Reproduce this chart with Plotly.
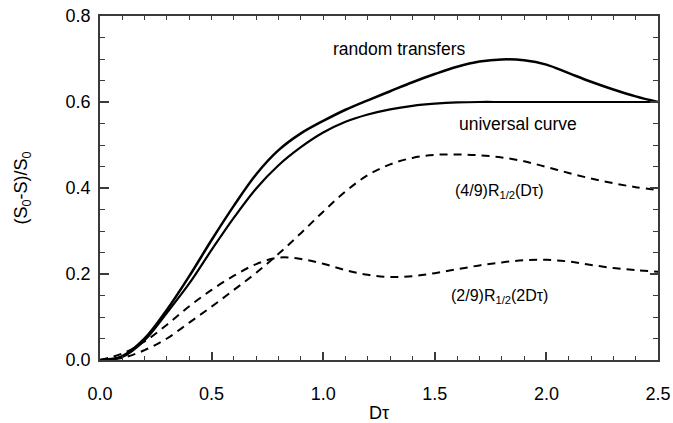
import plotly.graph_objects as go

# x grid (Dτ)
x_vals = [0.0, 0.1, 0.2, 0.3, 0.4, 0.5, 0.6, 0.7, 0.8, 0.9, 1.0, 1.1, 1.2,
          1.3, 1.4, 1.5, 1.6, 1.7, 1.8, 1.9, 2.0, 2.1, 2.2, 2.3, 2.4, 2.5]

random_transfers = [0.0, 0.009, 0.05, 0.117, 0.195, 0.279, 0.359, 0.432, 0.488, 0.527,
                    0.556, 0.582, 0.604, 0.625, 0.646, 0.665, 0.682, 0.694, 0.699, 0.697,
                    0.687, 0.667, 0.647, 0.629, 0.613, 0.600]

universal_curve = [0.0, 0.007, 0.046, 0.11, 0.178, 0.256, 0.331, 0.399, 0.453, 0.495,
                   0.529, 0.554, 0.571, 0.583, 0.591, 0.596, 0.599, 0.600, 0.600, 0.600,
                   0.600, 0.600, 0.600, 0.600, 0.600, 0.600]

r_half_4_9 = [0.0, 0.005, 0.023, 0.05, 0.087, 0.124, 0.163, 0.203, 0.247, 0.295,
              0.345, 0.392, 0.430, 0.455, 0.470, 0.477, 0.478, 0.476, 0.471, 0.462,
              0.449, 0.435, 0.422, 0.411, 0.402, 0.395]

r_half_2_9 = [0.0, 0.015, 0.043, 0.082, 0.125, 0.163, 0.196, 0.223, 0.238, 0.235,
              0.224, 0.209, 0.198, 0.193, 0.195, 0.202, 0.211, 0.220, 0.227, 0.232,
              0.233, 0.229, 0.221, 0.214, 0.209, 0.205]

x_ticks = [0.0, 0.5, 1.0, 1.5, 2.0, 2.5]
x_ticklabels = ["0.0", "0.5", "1.0", "1.5", "2.0", "2.5"]
y_ticks = [0.0, 0.2, 0.4, 0.6, 0.8]
y_ticklabels = ["0.0", "0.2", "0.4", "0.6", "0.8"]

labels = ["random transfers", "universal curve",
          "(4/9)R<sub>1/2</sub>(Dτ)", "(2/9)R<sub>1/2</sub>(2Dτ)"]
label_x = [1.343, 1.874, 1.79, 1.79]
label_y = [0.724, 0.549, 0.392, 0.148]
label_size = [17.5, 17.5, 16, 16]

FONT = "Liberation Sans, Arial, sans-serif"
AX = "#3a3a3a"

fig = go.Figure()
fig.add_trace(go.Scatter(x=x_vals, y=random_transfers, mode="lines",
                         line=dict(color="black", width=2.5, shape="spline", smoothing=1),
                         showlegend=False, hoverinfo="skip"))
fig.add_trace(go.Scatter(x=x_vals, y=universal_curve, mode="lines",
                         line=dict(color="black", width=2.2, shape="spline", smoothing=1),
                         showlegend=False, hoverinfo="skip"))
fig.add_trace(go.Scatter(x=x_vals, y=r_half_4_9, mode="lines",
                         line=dict(color="black", width=2, dash="8px,6px", shape="spline", smoothing=1),
                         showlegend=False, hoverinfo="skip"))
fig.add_trace(go.Scatter(x=x_vals, y=r_half_2_9, mode="lines",
                         line=dict(color="black", width=2, dash="8px,6px", shape="spline", smoothing=1),
                         showlegend=False, hoverinfo="skip"))
# invisible trace to anchor the top/right tick axes
fig.add_trace(go.Scatter(x=[x_vals[0]], y=[universal_curve[0]], xaxis="x2", yaxis="y2",
                         mode="markers", marker=dict(opacity=0), showlegend=False, hoverinfo="skip"))

for t, lx, ly, s in zip(labels, label_x, label_y, label_size):
    fig.add_annotation(x=lx, y=ly, text=t, showarrow=False,
                       font=dict(family=FONT, size=s, color="black"))

fig.update_layout(
    width=673, height=423,
    margin=dict(l=100, r=15, t=16, b=63, autoexpand=False),
    paper_bgcolor="white", plot_bgcolor="white",
    font=dict(family=FONT, size=18, color="black"),
    xaxis=dict(range=[0, 2.5], tickvals=x_ticks, ticktext=x_ticklabels, automargin=False,
               ticks="inside", ticklen=8, tickwidth=1.5, tickcolor=AX,
               minor=dict(dtick=0.1, ticks="inside", ticklen=4, tickwidth=1, tickcolor=AX, showgrid=False),
               showline=True, linecolor=AX, linewidth=1.5, mirror=True,
               showgrid=False, zeroline=False,
               tickfont=dict(family=FONT, size=18, color="black"),
               ticklabelstandoff=17,
               title=dict(text="Dτ", font=dict(family=FONT, size=18, color="black"), standoff=14)),
    yaxis=dict(range=[0, 0.8], tickvals=y_ticks, ticktext=y_ticklabels, automargin=False,
               ticks="inside", ticklen=9, tickwidth=1.5, tickcolor=AX,
               minor=dict(dtick=0.05, ticks="inside", ticklen=5, tickwidth=1, tickcolor=AX, showgrid=False),
               showline=True, linecolor=AX, linewidth=1.5, mirror=True,
               showgrid=False, zeroline=False,
               tickfont=dict(family=FONT, size=18, color="black"),
               ticklabelstandoff=4,
               title=dict(text="(S<sub>0</sub>-S)/S<sub>0</sub>",
                          font=dict(family=FONT, size=18, color="black"), standoff=33)),
    xaxis2=dict(range=[0, 2.5], overlaying="x", side="top", anchor="y",
                tickvals=[i / 10 for i in range(26)], ticks="inside", ticklen=4, tickwidth=1,
                tickcolor=AX, showticklabels=False, showgrid=False, zeroline=False, showline=False),
    yaxis2=dict(range=[0, 0.8], overlaying="y", side="right", anchor="x",
                tickvals=y_ticks, ticks="inside", ticklen=8, tickwidth=1.5, tickcolor=AX,
                minor=dict(dtick=0.05, ticks="inside", ticklen=5, tickwidth=1, tickcolor=AX, showgrid=False),
                showticklabels=False, showgrid=False, zeroline=False, showline=False),
)

fig.write_html("out.html")
